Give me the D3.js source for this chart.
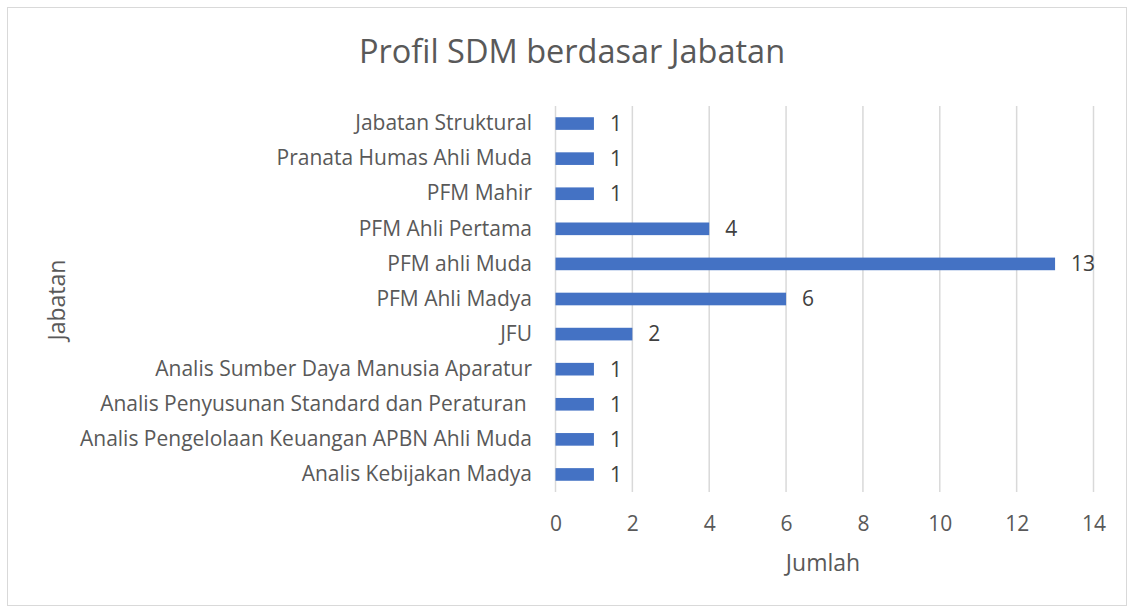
<!DOCTYPE html>
<html><head><meta charset="utf-8">
<script src="https://cdn.jsdelivr.net/npm/d3@7"></script>
<style>body{margin:0;background:#fff}svg{display:block}text{font-family:"Open Sans",sans-serif}</style>
</head><body><svg id="c" width="1134" height="608"></svg>
<script>
const categories = ["Jabatan Struktural","Pranata Humas Ahli Muda","PFM Mahir","PFM Ahli Pertama","PFM ahli Muda","PFM Ahli Madya","JFU","Analis Sumber Daya Manusia Aparatur","Analis Penyusunan Standard dan Peraturan ","Analis Pengelolaan Keuangan APBN Ahli Muda","Analis Kebijakan Madya"];
const values = [1,1,1,4,13,6,2,1,1,1,1];
const xTicks = [0,2,4,6,8,10,12,14];
const title = "Profil SDM berdasar Jabatan";
const xTitle = "Jumlah", yTitle = "Jabatan";

const svg = d3.select("#c");
svg.append("rect").attr("x",7.5).attr("y",7.5).attr("width",1119).attr("height",598).attr("fill","#fff").attr("stroke","#d9d9d9");
const x = d3.scaleLinear().domain([0,14]).range([555.5,1093.5]);
const y = d3.scaleBand().domain(categories).range([106,492]).paddingInner(0.64).paddingOuter(0.32);

svg.append("g").selectAll("line").data(xTicks).join("line")
  .attr("x1",d=>x(d)).attr("x2",d=>x(d)).attr("y1",106).attr("y2",492)
  .attr("stroke","#d9d9d9").attr("stroke-width",1.5);

const F = '"Open Sans",sans-serif';
const xa = svg.append("g").attr("transform","translate(0,492)").call(d3.axisBottom(x).tickValues(xTicks).tickSize(0).tickPadding(24));
xa.select(".domain").remove();
xa.selectAll("text").attr("fill","#595959").style("font-size","21px").style("font-family",F);

const ya = svg.append("g").attr("transform","translate(532,0)").call(d3.axisLeft(y).tickSize(0).tickPadding(0));
ya.select(".domain").remove();
ya.selectAll("text").attr("fill","#595959").style("font-size","21px").style("font-family",F).style("white-space","pre");

svg.append("g").selectAll("rect").data(values).join("rect")
  .attr("x",x(0)).attr("y",(d,i)=>y(categories[i])).attr("width",d=>x(d)-x(0)).attr("height",y.bandwidth())
  .attr("fill","#4472C4");

svg.append("g").selectAll("text").data(values).join("text")
  .attr("x",d=>x(d)+16).attr("y",(d,i)=>y(categories[i])+y.bandwidth()/2).attr("dy","0.35em")
  .attr("fill","#404040").style("font-size","21px").text(d=>d);

svg.append("text").attr("x",572).attr("y",63).attr("text-anchor","middle").attr("fill","#595959").style("font-size","32.5px").text(title);
svg.append("text").attr("x",823).attr("y",571).attr("text-anchor","middle").attr("fill","#595959").style("font-size","23px").text(xTitle);
svg.append("text").attr("transform","translate(65,300) rotate(-90)").attr("text-anchor","middle").attr("fill","#595959").style("font-size","23px").text(yTitle);
</script></body></html>
